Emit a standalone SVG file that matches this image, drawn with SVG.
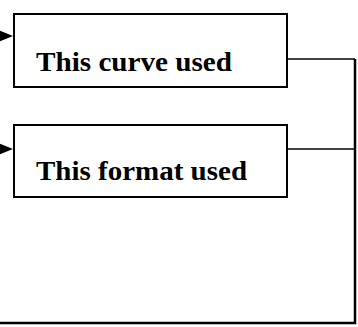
<svg xmlns="http://www.w3.org/2000/svg" width="358" height="327" viewBox="0 0 358 327">
<style>
.box{fill:#fff;stroke:#000;stroke-width:2}
.lbl{font-family:"Liberation Serif","Times New Roman",serif;font-weight:bold;font-size:27px;fill:#000}
.conn{fill:none;stroke:#000;stroke-width:1.5}
.outer{fill:none;stroke:#000;stroke-width:2.5}
.head{fill:#000}
</style>
<rect width="358" height="327" fill="#fff"/>
<g id="connectors">
<path class="conn" d="M287,59 H355"/>
<path class="conn" d="M287,149 H355"/>
<path class="outer" d="M355,59 V323 H0"/>
<polygon class="head" points="-2,30 13,36 -2,42"/>
<polygon class="head" points="-2,143 13,149 -2,155"/>
</g>
<g id="node1">
<rect class="box" x="14" y="14" width="273" height="73"/>
<text class="lbl" x="36" y="71" textLength="196" lengthAdjust="spacingAndGlyphs">This curve used</text>
</g>
<g id="node2">
<rect class="box" x="14" y="125" width="273" height="72"/>
<text class="lbl" x="36" y="180" textLength="211" lengthAdjust="spacingAndGlyphs">This format used</text>
</g>
</svg>
